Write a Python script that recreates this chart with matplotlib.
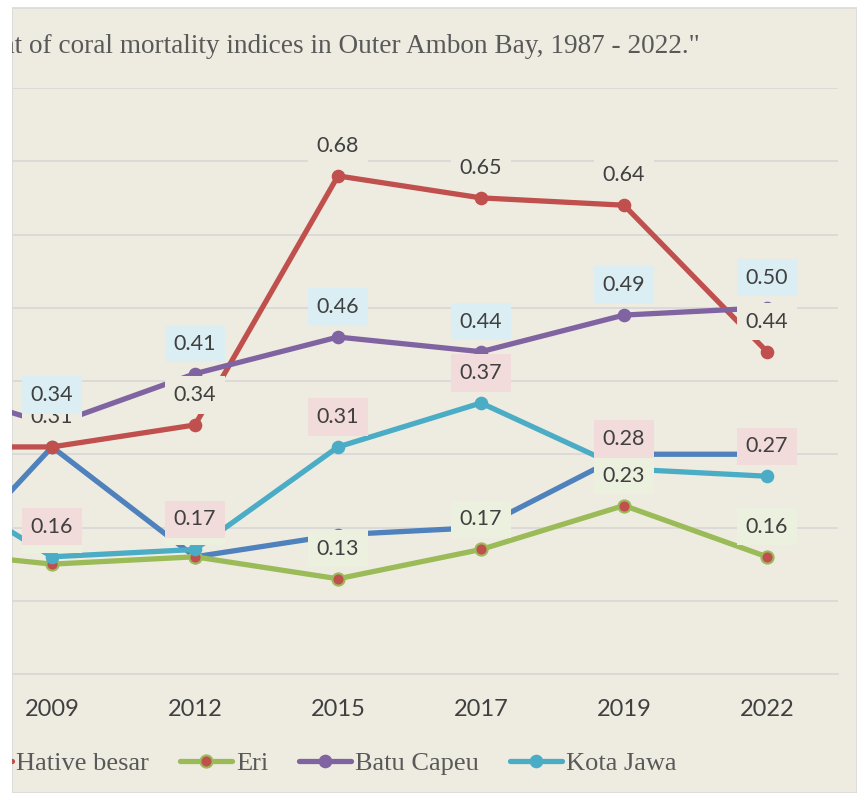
import matplotlib
matplotlib.use("Agg")
import matplotlib.pyplot as plt
from matplotlib.patches import Rectangle

# ---------------- data ----------------
years = ["1987", "2009", "2012", "2015", "2017", "2019", "2022"]
site0 = [0.10, 0.31, 0.16, 0.19, 0.20, 0.30, 0.30]          # series cut off at left (name not visible)
hative_besar = [0.31, 0.31, 0.34, 0.68, 0.65, 0.64, 0.44]
eri = [0.17, 0.15, 0.16, 0.13, 0.17, 0.23, 0.16]
batu_capeu = [0.40, 0.34, 0.41, 0.46, 0.44, 0.49, 0.50]
kota_jawa = [0.28, 0.16, 0.17, 0.31, 0.37, 0.28, 0.27]
series_names = ["Hative besar", "Eri", "Batu Capeu", "Kota Jawa"]
title_text = 'nt of coral mortality indices in Outer Ambon Bay, 1987 - 2022."'

W, H = 857, 793
BG = "#EEECE1"
GRID = "#D9D9D9"
TXT = "#404040"

fig = plt.figure(figsize=(W / 100, H / 100), dpi=100, facecolor="white")


def fx(px):
    return px / W


def fy(py):
    return 1 - py / H


# chart panel
fig.add_artist(Rectangle((fx(12), 0), fx(W - 12), fy(7.5), transform=fig.transFigure,
                         facecolor=BG, edgecolor=GRID, linewidth=1.2, zorder=-5))

# plot area (extends beyond left edge as in the cropped reference)
left_px, right_px, top_px, bot_px = -162.5, 838.5, 88, 674
ax = fig.add_axes([fx(left_px), fy(bot_px), (right_px - left_px) / W, (bot_px - top_px) / H])
ax.set_facecolor("none")
x = list(range(len(years)))
ax.set_xlim(-0.5, len(years) - 0.5)
ax.set_ylim(0, 0.8)
ax.set_yticks([i / 10 for i in range(9)])
ax.yaxis.grid(True, color=GRID, linewidth=1.3)
ax.set_axisbelow(True)
for s in ["left", "right", "top"]:
    ax.spines[s].set_visible(False)
ax.spines["bottom"].set_color(GRID)
ax.spines["bottom"].set_linewidth(1.3)
ax.tick_params(axis="y", left=False, labelleft=False)
ax.set_xticks(x)
ax.set_xticklabels(years, fontfamily="Lato", fontsize=17, color=TXT)
ax.tick_params(axis="x", length=0, pad=18)

lw, ms = 3.8, 8.8
common = dict(linewidth=lw, markersize=ms, marker="o", solid_joinstyle="round", solid_capstyle="round")
l0, = ax.plot(x, site0, color="#4F81BD", zorder=3, **common)
l1, = ax.plot(x, hative_besar, color="#C0504D", zorder=4, **common)
l2, = ax.plot(x, eri, color="#9BBB59", markerfacecolor="#C0504D", markeredgecolor="#9BBB59",
              markeredgewidth=1.5, zorder=5, **common)
l3, = ax.plot(x, batu_capeu, color="#8064A2", zorder=6, **common)
l4, = ax.plot(x, kota_jawa, color="#4BACC6", zorder=7, **common)

label_specs = [
    (hative_besar, BG, 10),
    (eri, "#EBF1DE", 11),
    (batu_capeu, "#DBEEF4", 12),
    (kota_jawa, "#F2DCDB", 13),
]
for vals, box, z in label_specs:
    for xi, v in zip(x, vals):
        ax.annotate(f"{v:.2f}", (xi, v), xytext=(0, 30), textcoords="offset pixels",
                    ha="center", va="center", fontfamily="Lato", fontsize=15.5, color=TXT,
                    bbox=dict(boxstyle="square,pad=0.4", facecolor=box, edgecolor="none"),
                    zorder=z, annotation_clip=False)

# title
fig.text(fx(700), fy(53), title_text, ha="right", va="baseline",
         fontfamily="Liberation Serif", fontsize=19.6, color="#595959")

# legend
fs = 19
fspx = fs * 100 / 72
fig.legend([l1, l2, l3, l4], series_names, loc="center left",
           bbox_to_anchor=(fx(-40), fy(763)), bbox_transform=fig.transFigure,
           ncol=4, frameon=False, borderpad=0, borderaxespad=0,
           handlelength=52 / fspx, handletextpad=4 / fspx, columnspacing=31 / fspx,
           prop=dict(family="Liberation Serif", size=fs), labelcolor="#595959")

# white area outside the cropped panel
fig.add_artist(Rectangle((0, 0), fx(12), 1, transform=fig.transFigure,
                         facecolor="white", edgecolor="none", zorder=100))
fig.add_artist(Rectangle((0, fy(7)), 1, 1 - fy(7), transform=fig.transFigure,
                         facecolor="white", edgecolor="none", zorder=100))

fig.savefig("out.png", dpi=100, facecolor="white")
